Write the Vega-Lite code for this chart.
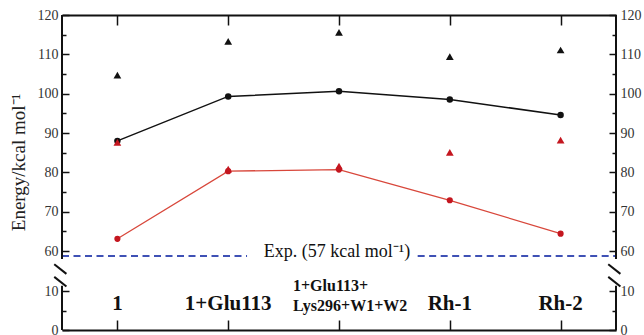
{
  "$schema": "https://vega.github.io/schema/vega-lite/v6.json",
  "width": 554,
  "height": 315,
  "autosize": {"type": "none"},
  "padding": {"left": 62, "top": 15, "right": 28, "bottom": 5},
  "background": "white",
  "config": {
    "view": {"stroke": null},
    "axis": {"grid": false, "labelFont": "Liberation Serif", "titleFont": "Liberation Serif", "domainColor": "#111", "tickColor": "#111", "labelColor": "#333"}
  },
  "datasets": {
    "blackCircles": [
      {"idx": 0, "energy": 88.0},
      {"idx": 1, "energy": 99.3},
      {"idx": 2, "energy": 100.6},
      {"idx": 3, "energy": 98.5},
      {"idx": 4, "energy": 94.6}
    ],
    "redCircles": [
      {"idx": 0, "energy": 63.1},
      {"idx": 1, "energy": 80.3},
      {"idx": 2, "energy": 80.7},
      {"idx": 3, "energy": 72.9},
      {"idx": 4, "energy": 64.4}
    ],
    "blackTriangles": [
      {"idx": 0, "energy": 104.7},
      {"idx": 1, "energy": 113.3},
      {"idx": 2, "energy": 115.6},
      {"idx": 3, "energy": 109.4},
      {"idx": 4, "energy": 111.1}
    ],
    "redTriangles": [
      {"idx": 0, "energy": 87.6},
      {"idx": 1, "energy": 80.8},
      {"idx": 2, "energy": 81.6},
      {"idx": 3, "energy": 85.1},
      {"idx": 4, "energy": 88.2}
    ],
    "expLine": [
      {"from": -0.5, "to": 1.17},
      {"from": 2.71, "to": 4.5}
    ],
    "frame": [
      {"x": -0.5, "lo": 0, "hi": 17},
      {"x": -0.5, "lo": 53, "hi": 120},
      {"x": 4.5, "lo": 0, "hi": 17},
      {"x": 4.5, "lo": 53, "hi": 120}
    ],
    "breaks": [
      {"x1": -0.57, "x2": -0.46, "y1": 46, "y2": 33},
      {"x1": -0.57, "x2": -0.46, "y1": 29, "y2": 16},
      {"x1": 4.43, "x2": 4.54, "y1": 46, "y2": 33},
      {"x1": 4.43, "x2": 4.54, "y1": 29, "y2": 16}
    ],
    "labels": [
      {"idx": 0, "label": "1"},
      {"idx": 1, "label": "1+Glu113"},
      {"idx": 3, "label": "Rh-1"},
      {"idx": 4, "label": "Rh-2"}
    ],
    "labels2": [
      {"idx": 2, "label": "1+Glu113+\nLys296+W1+W2"}
    ]
  },
  "resolve": {"axis": {"x": "independent", "y": "independent"}},
  "layer": [
    {
      "data": {"name": "blackCircles"},
      "mark": {"type": "line", "color": "#111", "strokeWidth": 1.5},
      "encoding": {
        "x": {"field": "idx", "type": "quantitative",
          "scale": {"domain": [-0.5, 4.5], "nice": false, "zero": false},
          "axis": {"orient": "bottom", "values": [0, 1, 2, 3, 4], "labels": false, "tickSize": -10, "tickWidth": 1.5, "domainWidth": 2, "title": null}},
        "y": {"field": "energy", "type": "quantitative",
          "scale": {"domain": [0, 10, 57, 60, 120], "range": [315, 276, 241, 236, 0], "nice": false, "zero": false},
          "axis": {"orient": "left", "values": [0, 10, 60, 70, 80, 90, 100, 110, 120], "domain": false, "tickSize": -7, "tickWidth": 1.5, "labelFontSize": 14, "labelPadding": 11,
            "title": "Energy/kcal mol⁻¹", "titleFontSize": 19, "titleFontWeight": "normal", "titleColor": "#222", "titleAngle": -90, "titleX": -44, "titleY": 147, "titleAlign": "center", "titleBaseline": "middle"}}
      }
    },
    {
      "data": {"name": "redCircles"},
      "mark": {"type": "line", "color": "#d8473b", "strokeWidth": 1.3},
      "encoding": {
        "x": {"field": "idx", "type": "quantitative",
          "axis": {"orient": "top", "values": [0, 1, 2, 3, 4], "labels": false, "tickSize": -10, "tickWidth": 1.5, "domainWidth": 2, "title": null}},
        "y": {"field": "energy", "type": "quantitative",
          "axis": {"orient": "right", "values": [0, 10, 60, 70, 80, 90, 100, 110, 120], "domain": false, "tickSize": -7, "tickWidth": 1.5, "labelFontSize": 14, "labelPadding": 11, "title": null}}
      }
    },
    {
      "data": {"name": "blackCircles"},
      "mark": {"type": "point", "shape": "circle", "filled": true, "color": "#111", "size": 42, "opacity": 1},
      "encoding": {
        "x": {"field": "idx", "type": "quantitative", "axis": null},
        "y": {"field": "energy", "type": "quantitative",
          "axis": {"orient": "left", "values": [5, 65, 75, 85, 95, 105, 115], "labels": false, "domain": false, "tickSize": -4, "tickWidth": 1.5, "title": null}}
      }
    },
    {
      "data": {"name": "redCircles"},
      "mark": {"type": "point", "shape": "circle", "filled": true, "color": "#c4161f", "size": 38, "opacity": 1},
      "encoding": {
        "x": {"field": "idx", "type": "quantitative", "axis": null},
        "y": {"field": "energy", "type": "quantitative",
          "axis": {"orient": "right", "values": [5, 65, 75, 85, 95, 105, 115], "labels": false, "domain": false, "tickSize": -4, "tickWidth": 1.5, "title": null}}
      }
    },
    {
      "data": {"name": "blackTriangles"},
      "mark": {"type": "point", "shape": "triangle-up", "filled": true, "color": "#111", "size": 60, "opacity": 1},
      "encoding": {
        "x": {"field": "idx", "type": "quantitative", "axis": null},
        "y": {"field": "energy", "type": "quantitative", "axis": null}
      }
    },
    {
      "data": {"name": "redTriangles"},
      "mark": {"type": "point", "shape": "triangle-up", "filled": true, "color": "#c4161f", "size": 60, "opacity": 1},
      "encoding": {
        "x": {"field": "idx", "type": "quantitative", "axis": null},
        "y": {"field": "energy", "type": "quantitative", "axis": null}
      }
    },
    {
      "data": {"name": "expLine"},
      "mark": {"type": "rule", "color": "#3f51b5", "strokeWidth": 2, "strokeDash": [7, 4.5]},
      "encoding": {
        "x": {"field": "from", "type": "quantitative", "axis": null},
        "x2": {"field": "to"},
        "y": {"datum": 57, "type": "quantitative", "axis": null}
      }
    },
    {
      "data": {"values": [{"text": "Exp. (57 kcal mol⁻¹)"}]},
      "mark": {"type": "text", "font": "Liberation Serif", "fontSize": 18, "color": "#111", "align": "center", "baseline": "alphabetic", "dx": -2, "dy": 1},
      "encoding": {
        "x": {"datum": 2, "type": "quantitative", "axis": null},
        "y": {"datum": 57, "type": "quantitative", "axis": null},
        "text": {"field": "text"}
      }
    },
    {
      "data": {"name": "frame"},
      "mark": {"type": "rule", "color": "#111", "strokeWidth": 2},
      "encoding": {
        "x": {"field": "x", "type": "quantitative", "axis": null},
        "y": {"field": "lo", "type": "quantitative", "axis": null},
        "y2": {"field": "hi"}
      }
    },
    {
      "data": {"name": "breaks"},
      "mark": {"type": "rule", "color": "#111", "strokeWidth": 2},
      "encoding": {
        "x": {"field": "x1", "type": "quantitative", "axis": null},
        "x2": {"field": "x2"},
        "y": {"field": "y1", "type": "quantitative", "axis": null},
        "y2": {"field": "y2"}
      }
    },
    {
      "data": {"name": "labels"},
      "mark": {"type": "text", "font": "Liberation Serif", "fontSize": 21, "fontWeight": "bold", "color": "#111", "align": "center", "baseline": "alphabetic"},
      "encoding": {
        "x": {"field": "idx", "type": "quantitative", "axis": null},
        "y": {"datum": 5.1, "type": "quantitative", "axis": null},
        "text": {"field": "label"}
      }
    },
    {
      "data": {"name": "labels2"},
      "mark": {"type": "text", "font": "Liberation Serif", "fontSize": 16, "fontWeight": "bold", "color": "#111", "align": "left", "baseline": "alphabetic", "lineBreak": "\n", "lineHeight": 20, "dx": -46},
      "encoding": {
        "x": {"field": "idx", "type": "quantitative", "axis": null},
        "y": {"datum": 10.2, "type": "quantitative", "axis": null},
        "text": {"field": "label"}
      }
    }
  ]
}
